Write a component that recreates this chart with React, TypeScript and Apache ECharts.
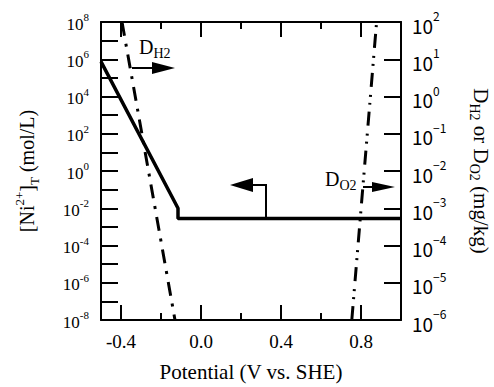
import { useEffect, useRef } from "react";
import * as echarts from "echarts";

// Axis ranges
const xMin = -0.5;
const xMax = 1.0;
const xMajorTicks = [-0.4, 0.0, 0.4, 0.8];
const xMinorTicks = [-0.2, 0.2, 0.6];
const leftExpMin = -8;
const leftExpMax = 8;
const rightExpMin = -6;
const rightExpMax = 2;

// [Ni2+]_T (mol/L) vs potential (V vs. SHE)
const niPotential = [-0.5, -0.115, -0.115, 1.0];
const niConc = [7.4e5, 1.0e-2, 2.8e-3, 2.8e-3];

// D_H2 (mg/kg) vs potential
const h2Potential = [-0.395, -0.13];
const h2Dose = [1e2, 1e-6];

// D_O2 (mg/kg) vs potential
const o2Potential = [0.754, 0.878];
const o2Dose = [1e-6, 1e2];

const SERIF = "Liberation Serif";
const SANS = "Noto Sans CJK JP";

export default function App() {
  const ref = useRef<HTMLDivElement>(null);

  useEffect(() => {
    document.body.style.margin = "0";
    if (!ref.current) return;
    const chart = echarts.init(ref.current, undefined, { renderer: "svg" });

    const axisLine = { show: true, onZero: false, lineStyle: { color: "#000", width: 2 } };
    const noLine = { show: false, onZero: false };
    const xBase = { type: "value", min: xMin, max: xMax, splitLine: { show: false } };

    const leftRich = {
      b: { fontFamily: SERIF, fontSize: 17, color: "#000", lineHeight: 21, verticalAlign: "bottom" },
      s: { fontFamily: SERIF, fontSize: 11, color: "#000", verticalAlign: "top" },
    };
    const rightRich = {
      b: { fontFamily: SANS, fontSize: 19, color: "#000", lineHeight: 25, verticalAlign: "bottom" },
      s: { fontFamily: SANS, fontSize: 12, color: "#000", verticalAlign: "top" },
    };
    const leftTitleRich = {
      b: { fontFamily: SERIF, fontSize: 20, color: "#000", lineHeight: 28, verticalAlign: "middle" },
      sup: { fontFamily: SERIF, fontSize: 13, color: "#000", verticalAlign: "top" },
      sub: { fontFamily: SERIF, fontSize: 13, color: "#000", verticalAlign: "bottom" },
    };
    const rightTitleRich = {
      b: { fontFamily: SERIF, fontSize: 21, color: "#000", lineHeight: 28, verticalAlign: "middle" },
      sub: { fontFamily: SERIF, fontSize: 14, color: "#000", verticalAlign: "bottom" },
    };

    const option: any = {
      animation: false,
      textStyle: { fontFamily: SERIF },
      grid: { left: 101, top: 22, width: 300, height: 298, containLabel: false, outerBoundsMode: "none" },
      xAxis: [
        {
          ...xBase,
          position: "bottom",
          axisLine,
          axisTick: { show: true, inside: true, length: 15, customValues: xMajorTicks, lineStyle: { color: "#000", width: 2 } },
          axisLabel: {
            customValues: xMajorTicks,
            formatter: (v: number) => v.toFixed(1),
            fontFamily: SERIF,
            fontSize: 19,
            color: "#000",
            margin: 12,
          },
          name: "Potential (V vs. SHE)",
          nameLocation: "middle",
          nameGap: 41,
          nameTextStyle: { fontFamily: SERIF, fontSize: 21, color: "#000" },
        },
        {
          ...xBase,
          position: "bottom",
          axisLine: noLine,
          axisLabel: { show: false },
          axisTick: { show: true, inside: true, length: 7, customValues: xMinorTicks, lineStyle: { color: "#000", width: 2 } },
        },
        {
          ...xBase,
          position: "top",
          axisLine,
          axisLabel: { show: false },
          axisTick: { show: true, inside: true, length: 15, customValues: xMajorTicks, lineStyle: { color: "#000", width: 2 } },
        },
        {
          ...xBase,
          position: "top",
          axisLine: noLine,
          axisLabel: { show: false },
          axisTick: { show: true, inside: true, length: 7, customValues: xMinorTicks, lineStyle: { color: "#000", width: 2 } },
        },
      ],
      yAxis: [
        {
          type: "value",
          position: "left",
          min: leftExpMin,
          max: leftExpMax,
          interval: 1,
          splitLine: { show: false },
          axisLine,
          axisTick: { show: true, inside: true, length: 17, lineStyle: { color: "#000", width: 2 } },
          axisLabel: {
            formatter: (v: number) => (Math.round(v) % 2 === 0 ? `{b|10}{s|${Math.round(v)}}` : ""),
            rich: leftRich,
            fontFamily: SERIF,
            margin: 12,
          },
          name: "{b|[Ni}{sup|2+}{b|]}{sub|T}{b| (mol/L)}",
          nameLocation: "middle",
          nameRotate: 90,
          nameGap: 60,
          nameTextStyle: { fontFamily: SERIF, rich: leftTitleRich },
        },
        {
          type: "value",
          position: "right",
          min: rightExpMin,
          max: rightExpMax,
          interval: 1,
          splitLine: { show: false },
          axisLine,
          axisTick: { show: true, inside: true, length: 17, lineStyle: { color: "#000", width: 2 } },
          axisLabel: {
            formatter: (v: number) => {
              const e = Math.round(v);
              return `{b|10}{s|${e < 0 ? "\u2212" + Math.abs(e) : e}}`;
            },
            rich: rightRich,
            fontFamily: SANS,
            margin: 11,
          },
          name: "{b|D}{sub|H2}{b| or D}{sub|O2}{b| (mg/kg)}",
          nameLocation: "middle",
          nameRotate: -90,
          nameGap: 66,
          nameTextStyle: { fontFamily: SERIF, rich: rightTitleRich },
        },
      ],
      series: [
        {
          type: "line",
          xAxisIndex: 0,
          yAxisIndex: 0,
          data: niPotential.map((x, i) => [x, Math.log10(niConc[i])]),
          showSymbol: false,
          symbol: "none",
          clip: true,
          lineStyle: { color: "#000", width: 3.5 },
        },
        {
          type: "line",
          xAxisIndex: 0,
          yAxisIndex: 1,
          data: h2Potential.map((x, i) => [x, Math.log10(h2Dose[i])]),
          showSymbol: false,
          symbol: "none",
          clip: true,
          lineStyle: { color: "#000", width: 3, type: [14, 8, 3, 8] },
        },
        {
          type: "line",
          xAxisIndex: 0,
          yAxisIndex: 1,
          data: o2Potential.map((x, i) => [x, Math.log10(o2Dose[i])]),
          showSymbol: false,
          symbol: "none",
          clip: true,
          lineStyle: { color: "#000", width: 3, type: [14, 7, 2, 6, 2, 8] },
        },
      ],
      graphic: [
        {
          type: "text",
          x: 139,
          y: 34,
          style: {
            text: "{b|D}{sub|H2}",
            rich: {
              b: { fontFamily: SERIF, fontSize: 20, fill: "#000", lineHeight: 26, verticalAlign: "middle" },
              sub: { fontFamily: SERIF, fontSize: 14, fill: "#000", verticalAlign: "bottom" },
            },
          },
        },
        { type: "line", shape: { x1: 132, y1: 68, x2: 154, y2: 68 }, style: { stroke: "#000", lineWidth: 2 } },
        { type: "polygon", shape: { points: [[152, 62], [175, 68], [152, 74]] }, style: { fill: "#000" } },
        {
          type: "text",
          x: 325,
          y: 166,
          style: {
            text: "{b|D}{sub|O2}",
            rich: {
              b: { fontFamily: SERIF, fontSize: 20, fill: "#000", lineHeight: 26, verticalAlign: "middle" },
              sub: { fontFamily: SERIF, fontSize: 14, fill: "#000", verticalAlign: "bottom" },
            },
          },
        },
        { type: "line", shape: { x1: 363, y1: 187, x2: 374, y2: 187 }, style: { stroke: "#000", lineWidth: 2 } },
        { type: "polygon", shape: { points: [[372, 182], [395, 187], [372, 192]] }, style: { fill: "#000" } },
        {
          type: "polyline",
          shape: { points: [[266, 218], [266, 185], [251, 185]] },
          style: { stroke: "#000", lineWidth: 2, fill: "none" },
        },
        { type: "polygon", shape: { points: [[230, 185], [253, 178], [253, 192]] }, style: { fill: "#000" } },
      ],
    };

    chart.setOption(option);
    return () => chart.dispose();
  }, []);

  return <div ref={ref} style={{ width: 494, height: 387 }} />;
}
